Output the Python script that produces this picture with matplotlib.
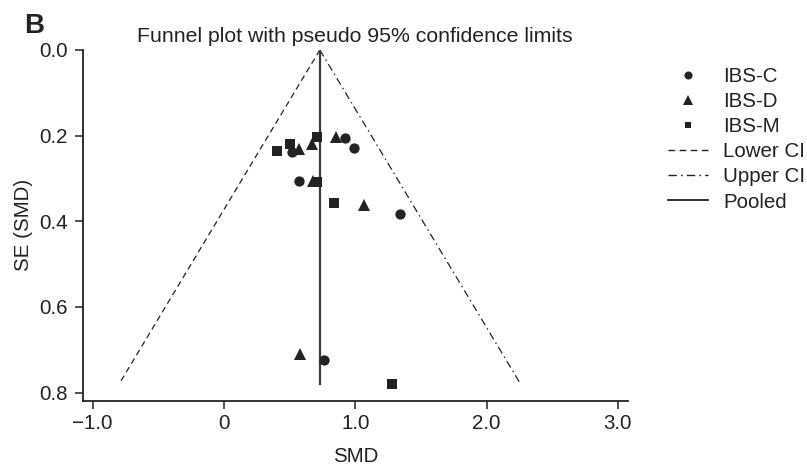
import numpy as np
import matplotlib
matplotlib.use("Agg")
import matplotlib.pyplot as plt
from matplotlib.lines import Line2D

plt.rcParams['font.family'] = ['Liberation Sans', 'DejaVu Sans']

# study estimates (SMD, SE)
ibs_c_smd = [0.52, 0.92, 0.99, 0.57, 1.34, 0.76]
ibs_c_se = [0.238, 0.206, 0.228, 0.305, 0.382, 0.724]
ibs_d_smd = [0.57, 0.67, 0.85, 0.68, 1.07, 0.58]
ibs_d_se = [0.232, 0.220, 0.203, 0.305, 0.362, 0.709]
ibs_m_smd = [0.40, 0.50, 0.71, 0.71, 0.84, 1.28]
ibs_m_se = [0.236, 0.220, 0.203, 0.309, 0.358, 0.780]

pooled = 0.73
se_max = 0.780

xticks = [-1.0, 0, 1.0, 2.0, 3.0]
xtick_labels = ["\u22121.0", "0", "1.0", "2.0", "3.0"]
yticks = [0.0, 0.2, 0.4, 0.6, 0.8]

fs = 14.8
ink = "#222222"
lower_ls = (0, (4.8, 3.2))
upper_ls = (0, (6, 3, 1.2, 3))

fig = plt.figure(figsize=(8.07, 4.67), dpi=100)
ax = fig.add_axes([0.1025, 0.142, 0.6755, 0.751])

se_line = np.array([0.0, se_max])
ax.plot(pooled - 1.96 * se_line, se_line, color=ink, lw=0.9, ls=lower_ls)
ax.plot(pooled + 1.96 * se_line, se_line, color=ink, lw=0.9, ls=upper_ls)
ax.plot([pooled, pooled], se_line, color="#3a3a3a", lw=1.6)

ms = 7.4
ax.plot(ibs_c_smd, ibs_c_se, "o", color=ink, ms=ms, mew=0)
ax.plot(ibs_d_smd, ibs_d_se, "^", color=ink, ms=ms + 0.6, mew=0)
ax.plot(ibs_m_smd, ibs_m_se, "s", color=ink, ms=ms - 0.4, mew=0)

ax.set_xlim(-1.076, 3.076)
ax.set_ylim(0.819, 0.0)
ax.set_xticks(xticks)
ax.set_xticklabels(xtick_labels)
ax.set_yticks(yticks)
ax.set_yticklabels(["%.1f" % v for v in yticks])
for s in ["top", "right"]:
    ax.spines[s].set_visible(False)
for s in ["left", "bottom"]:
    ax.spines[s].set_linewidth(1.3)
    ax.spines[s].set_color(ink)
ax.tick_params(direction="out", length=5.5, width=1.1, color=ink,
               labelsize=fs, labelcolor=ink)
ax.tick_params(axis="x", pad=4)
ax.tick_params(axis="y", pad=5)
ax.set_xlabel("SMD", fontsize=fs, color=ink, labelpad=10)
ax.set_ylabel("SE (SMD)", fontsize=fs, color=ink, labelpad=5)
ax.set_title("Funnel plot with pseudo 95% confidence limits", fontsize=15.3,
             color=ink, pad=6)

handles = [
    Line2D([], [], marker="o", ls="none", color=ink, ms=5.8, mew=0),
    Line2D([], [], marker="^", ls="none", color=ink, ms=6.8, mew=0),
    Line2D([], [], marker="s", ls="none", color=ink, ms=5.0, mew=0),
    Line2D([], [], color=ink, lw=1.0, ls=lower_ls),
    Line2D([], [], color=ink, lw=1.0, ls=upper_ls),
    Line2D([], [], color=ink, lw=1.3),
]
labels = ["IBS-C", "IBS-D", "IBS-M", "Lower CI", "Upper CI", "Pooled"]
fig.legend(handles, labels, loc="upper left", bbox_to_anchor=(0.8278, 0.857),
           frameon=False, fontsize=fs, handlelength=1.94, handletextpad=0.73,
           labelspacing=0.3, borderpad=0, borderaxespad=0, labelcolor=ink)

fig.text(0.03, 0.93, "B", fontsize=20, fontweight="bold", color=ink)

fig.savefig("out.png", dpi=100)
